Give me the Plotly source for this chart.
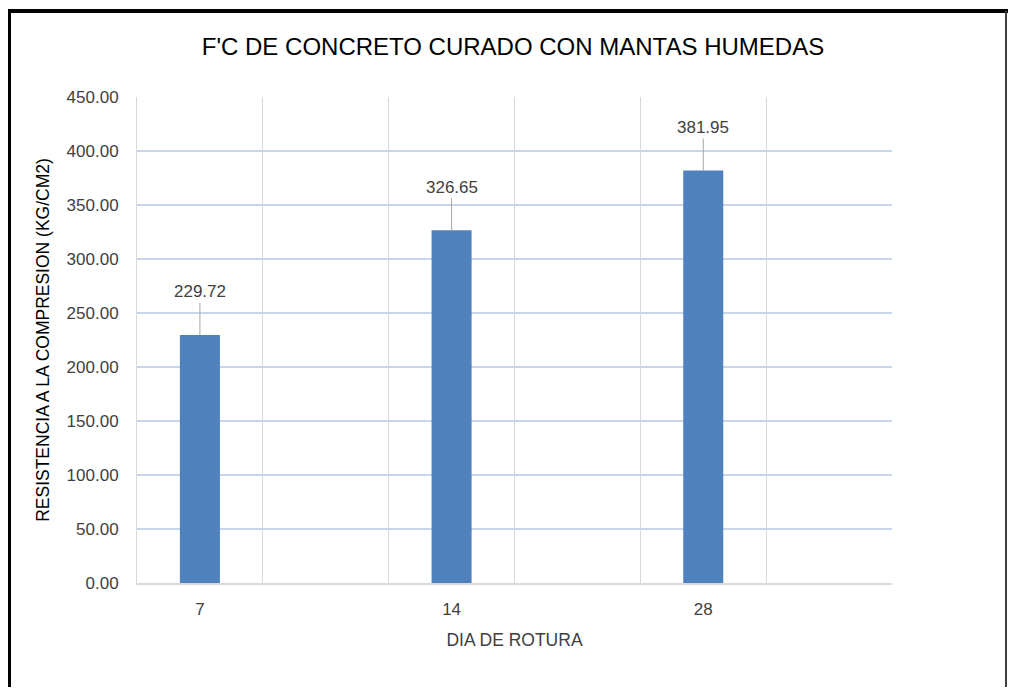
import plotly.graph_objects as go

dias = ["7", "14", "28"]
resistencia = [229.72, 326.65, 381.95]
y_ticks = [0, 50, 100, 150, 200, 250, 300, 350, 400, 450]

titulo = "F'C DE CONCRETO CURADO CON MANTAS HUMEDAS"
x_title = "DIA DE ROTURA"
y_title = "RESISTENCIA A LA COMPRESION (KG/CM2)"

# each day occupies every other slot of a 6-slot category axis
pos = [2 * i for i in range(len(dias))]
n_slots = 2 * len(dias)

FONT = "Liberation Sans"
OFF = 8  # page body margin
W, H = 1016 - 2 * OFF, 695 - 2 * OFF
L, T = 137 - OFF, 97 - OFF
R, B = W - (892 - OFF), H - (583 - OFF)
pw, ph = W - L - R, H - T - B


def px_x(p):
    return (p - OFF - L) / pw


def px_y(p):
    return (T + ph - (p - OFF)) / ph


fig = go.Figure()
fig.add_trace(go.Bar(
    x=pos, y=resistencia, width=0.318,
    marker=dict(color="#4F81BD", line=dict(width=0)),
    hoverinfo="skip",
))

for xp, v in zip(pos, resistencia):
    fig.add_annotation(
        x=xp, y=v, text=f"{v:.2f}", showarrow=True, arrowhead=0,
        arrowwidth=1, arrowcolor="#A6A6A6", ax=0, ay=-43, standoff=0,
        font=dict(family=FONT, size=17, color="#404040"),
    )

fig.update_layout(
    width=W, height=H,
    margin=dict(l=L, r=R, t=T, b=B),
    paper_bgcolor="white", plot_bgcolor="white",
    showlegend=False,
    title=dict(text=titulo, x=px_x(513), xref="paper", xanchor="center",
               y=1 - (47 - OFF) / H, yanchor="middle",
               font=dict(family=FONT, size=24, color="#000000")),
    font=dict(family=FONT, color="#404040"),
)

fig.update_xaxes(
    range=[-0.5, n_slots - 0.5],
    tickmode="array", tickvals=pos, ticktext=dias,
    showgrid=False, zeroline=False,
    showline=True, linecolor="#D9D9D9", linewidth=1.5,
    ticks="", ticklabelstandoff=10,
    tickfont=dict(family=FONT, size=17, color="#404040"),
    minor=dict(tickmode="array", tickvals=[k + 0.5 for k in range(n_slots)],
               showgrid=True, gridcolor="#D9D9D9", gridwidth=1, ticks=""),
    title=dict(text=x_title, standoff=16,
               font=dict(family=FONT, size=17.5, color="#404040")),
)

fig.update_yaxes(
    range=[0, 450], tickmode="array", tickvals=y_ticks,
    tickformat=".2f",
    showgrid=True, gridcolor="#C9D5E8", gridwidth=1.5,
    zeroline=False, showline=True, linecolor="#D9D9D9", linewidth=1,
    ticks="", ticklabelstandoff=14,
    tickfont=dict(family=FONT, size=17, color="#404040"),
    title=dict(text=y_title, standoff=12,
               font=dict(family=FONT, size=17.5, color="#000000")),
)

# outer frame of the chart: thick black top/left, thin dark right edge
fig.add_shape(type="line", xref="paper", yref="paper",
              x0=px_x(9), x1=px_x(1008), y0=px_y(11), y1=px_y(11),
              line=dict(color="black", width=4), layer="above")
fig.add_shape(type="line", xref="paper", yref="paper",
              x0=px_x(9), x1=px_x(9), y0=px_y(9), y1=px_y(720),
              line=dict(color="black", width=4), layer="above")
fig.add_shape(type="line", xref="paper", yref="paper",
              x0=px_x(1006), x1=px_x(1006), y0=px_y(11), y1=px_y(720),
              line=dict(color="#404040", width=2), layer="above")

fig.write_html("out.html")
